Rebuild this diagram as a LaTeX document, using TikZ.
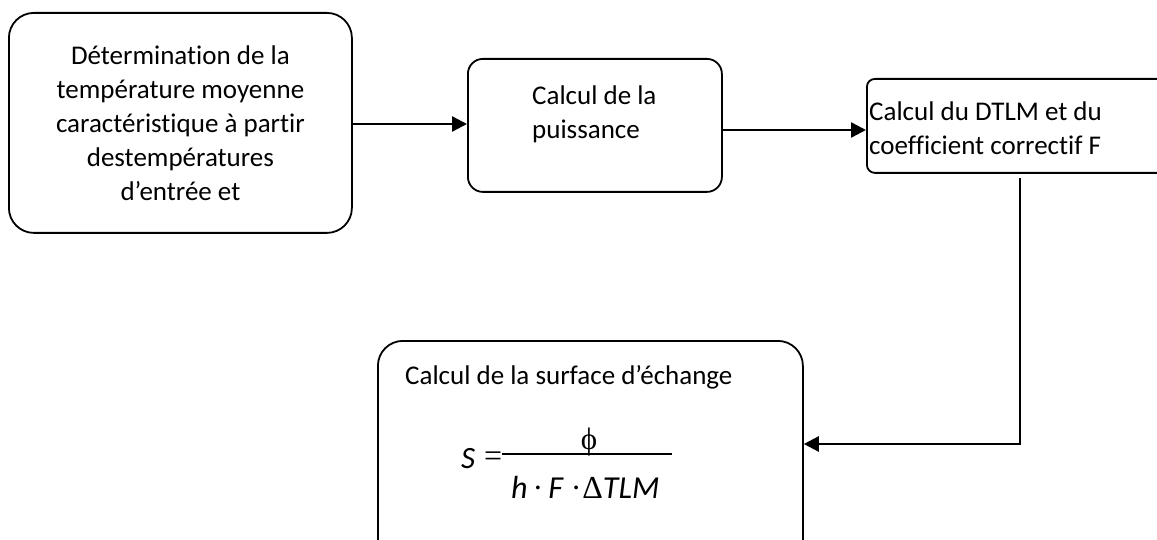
\documentclass[tikz,border=0pt]{standalone}
\usepackage{fontspec}
\setmainfont[Ligatures={NoCommon}]{Carlito}
\newfontfamily\symfont{Liberation Serif}
\usetikzlibrary{arrows.meta}
\tikzset{
  box/.style={draw, line width=1.8pt, inner sep=0pt, anchor=north west},
  txt/.style={font=\fontsize{27}{34}\selectfont, inner sep=0pt},
  arr/.style={line width=2.4pt, -{Triangle[length=15pt,width=15pt]}},
  wire/.style={line width=2.4pt}
}
\begin{document}
\begin{tikzpicture}[x=1pt,y=-1pt]
\useasboundingbox (0,0) rectangle (1157,540);
\clip (0,0) rectangle (1157,540);
% box 1
\node[box, rounded corners=25pt, minimum width=343pt, minimum height=220pt, txt, align=center] (b1) at (8,12)
  {Détermination de la\\température moyenne\\caractéristique à partir\\destempératures\\d’entrée et};
% box 2
\node[box, rounded corners=15pt, minimum width=254pt, minimum height=133pt] (b2) at (467,58) {};
\node[txt, align=left, anchor=west] (t2) at (532,114) {Calcul de la\\puissance};
% box 3
\node[box, rounded corners=8pt, minimum width=330pt, minimum height=94pt] (b3) at (866,78) {};
\node[txt, align=left, anchor=west] (t3) at (869,128) {Calcul du DTLM et du\\coefficient correctif F};
% box 4
\node[box, rounded corners=25pt, minimum width=425pt, minimum height=230pt] (b4) at (377,340) {};
\node[txt, anchor=west] (t4) at (405,377) {Calcul de la surface d’échange};
% formula
\node[txt, anchor=west, font=\fontsize{31}{32}\selectfont\itshape] (fs) at (461,459) {S};
\node[txt, anchor=west, font=\fontsize{32}{32}\symfont] (feq) at (484,459) {=};
\coordinate (fl1) at (502,454);
\coordinate (fl2) at (672,454);
\draw[line width=1.7pt] (fl1) -- (fl2);
\node[txt, font=\fontsize{31}{31}\symfont] (fphi) at (589,442) {ϕ};
\node[txt, anchor=west, font=\fontsize{32}{32}\selectfont] (fden) at (511,487)
  {\textit{h}\hspace{5pt}{\symfont·}\hspace{5pt}\textit{F}\hspace{7pt}{\symfont·}\hspace{1pt}{\symfont Δ}\textit{TLM}};
% connectors
\draw[arr] (b1.east |- 0,124) -- (b2.west |- 0,124);
\draw[arr] (b2.east |- 0,130) -- (b3.west |- 0,130);
\coordinate (c1) at (1020,178);
\draw[arr] (c1) |- (b4.east |- 0,444);
\end{tikzpicture}
\end{document}
